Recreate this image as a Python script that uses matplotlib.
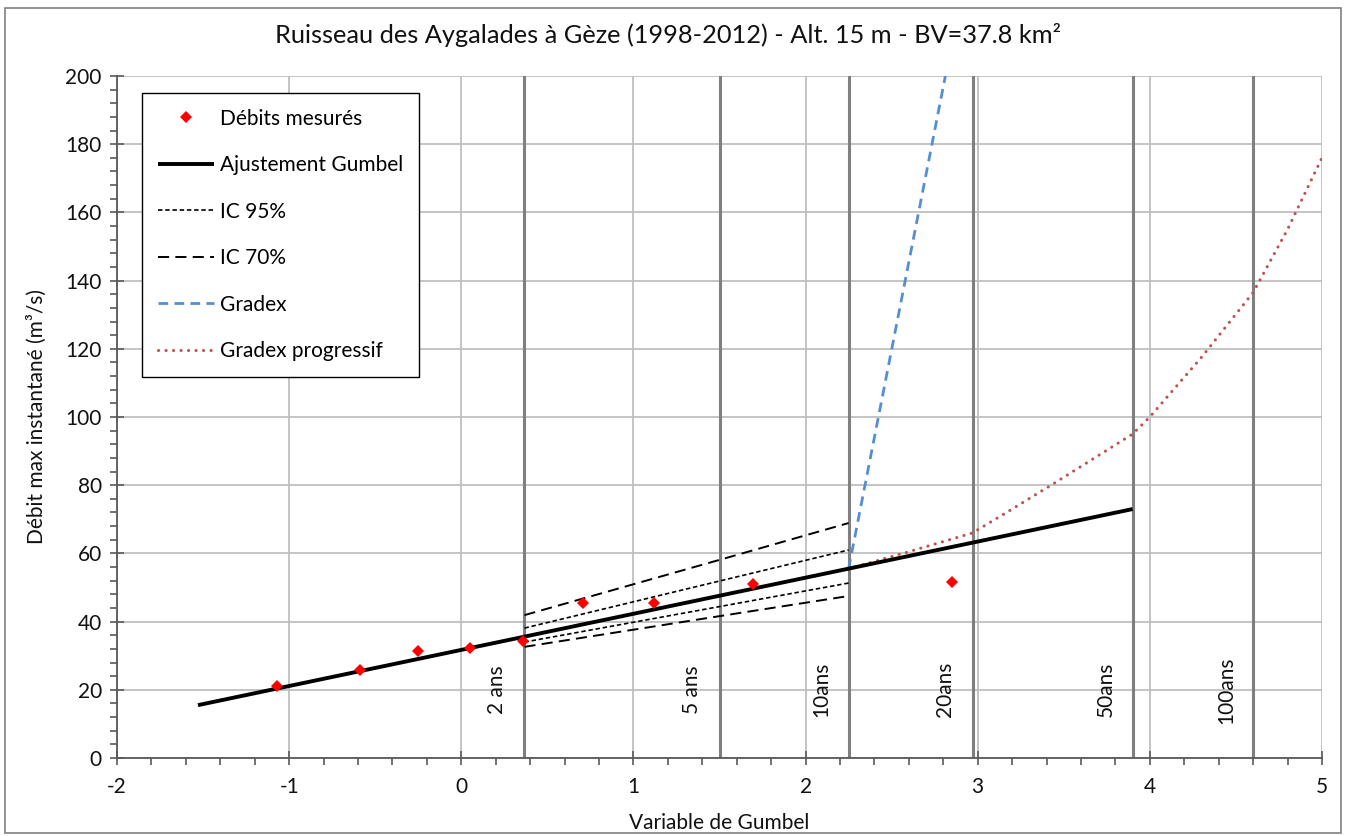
import matplotlib.pyplot as plt
from matplotlib.patches import Rectangle

plt.rcParams['font.family'] = ['Lato', 'DejaVu Sans']
plt.rcParams['lines.scale_dashes'] = False
plt.rcParams['axes.unicode_minus'] = False

# measured floods (gumbel reduced variate, m3/s)
obs_u = [-1.070, -0.588, -0.251, 0.051, 0.359, 0.706, 1.120, 1.697, 2.852]
obs_q = [21.1, 25.8, 31.5, 32.4, 34.2, 45.5, 45.5, 50.9, 51.6]

# gumbel fit
gumbel_u = [-1.53, 3.90]
gumbel_q = [15.5, 73.0]

# confidence intervals
ic_u = [0.367, 1.500, 2.250]
ic95_up = [38.1, 51.9, 61.0]
ic95_lo = [34.0, 44.4, 51.3]
ic70_up = [41.9, 58.1, 68.9]
ic70_lo = [32.6, 41.6, 47.5]

# gradex
gradex_u = [2.25, 2.82]
gradex_q = [55.5, 202.0]

# gradex progressif
gprog_u = [2.25, 2.60, 2.97, 3.20, 3.42, 3.60, 3.90, 4.00, 4.30, 4.60, 4.80, 5.00]
gprog_q = [55.5, 60.5, 66.0, 73.0, 79.8, 85.5, 95.0, 100.0, 117.5, 136.5, 155.0, 176.0]

# return periods
rp_u = [0.367, 1.500, 2.250, 2.970, 3.902, 4.600]
rp_labels = ['2 ans', '5 ans', '10ans', '20ans', '50ans', '100ans']

fig = plt.figure(figsize=(13.47, 8.36), dpi=100)
ax = fig.add_axes([0.0869, 0.0933, 0.9814 - 0.0869, 0.9091 - 0.0933])

ax.set_xlim(-2, 5)
ax.set_ylim(0, 200)
ax.set_xticks(range(-2, 6))
ax.set_yticks(range(0, 201, 20))
ax.set_xticks([i / 5 for i in range(-10, 26)], minor=True)
ax.set_yticks(range(0, 201, 4), minor=True)
ax.grid(True, which='major', color='#BFBFBF', lw=1.3, zorder=0)
ax.set_axisbelow(True)

for u in rp_u:
    ax.axvline(u, color='#808080', lw=2.2, zorder=1)
for u, lab in zip(rp_u, rp_labels):
    ax.text(u - 0.1, 20, lab, rotation=90, ha='right', va='center', fontsize=15, color='#111111')

ax.plot(ic_u, ic95_up, color='black', lw=1.2, dashes=(3.2, 2.0), label='IC 95%', zorder=3)
ax.plot(ic_u, ic95_lo, color='black', lw=1.2, dashes=(3.2, 2.0), zorder=3)
ax.plot(ic_u, ic70_up, color='black', lw=1.4, dashes=(8.0, 4.5), label='IC 70%', zorder=3)
ax.plot(ic_u, ic70_lo, color='black', lw=1.4, dashes=(8.0, 4.5), zorder=3)

ax.plot(gumbel_u, gumbel_q, color='black', lw=2.8, solid_capstyle='butt', label='Ajustement Gumbel', zorder=4)
ax.plot(gradex_u, gradex_q, color='#558ED5', lw=2.0, dashes=(7.0, 4.5), label='Gradex', zorder=3)
ax.plot(gprog_u, gprog_q, color='#C0504D', lw=2.2, dashes=(0.1, 5.3), dash_capstyle='round',
        label='Gradex progressif', zorder=3)
ax.plot(obs_u, obs_q, 'D', color='red', ms=6.5, mew=0, label='Débits mesurés', zorder=5)

for s in ['top', 'right']:
    ax.spines[s].set_visible(False)
for s in ['left', 'bottom']:
    ax.spines[s].set_color('#595959')
    ax.spines[s].set_linewidth(1.3)
ax.tick_params(which='major', direction='inout', length=10, width=1.2, color='#595959',
               labelsize=15, labelcolor='#111111')
ax.tick_params(which='minor', direction='out', length=5, width=1.2, color='#595959')
ax.tick_params(axis='x', which='major', pad=9)
ax.tick_params(axis='y', which='major', pad=6)

ax.set_xlabel('Variable de Gumbel', fontsize=15, color='#111111', labelpad=11)
ax.set_ylabel('Débit max instantané (m³/s)', fontsize=15, color='#111111', labelpad=13)

fig.text(0.496, 0.958, 'Ruisseau des Aygalades à Gèze (1998-2012) - Alt. 15 m - BV=37.8 km²',
         ha='center', va='center', fontsize=18.3, color='#111111')

h, l = ax.get_legend_handles_labels()
order = ['Débits mesurés', 'Ajustement Gumbel', 'IC 95%', 'IC 70%', 'Gradex', 'Gradex progressif']
hmap = dict(zip(l, h))
leg = ax.legend([hmap[k] for k in order], order, loc='upper left', bbox_to_anchor=(0.0207, 0.975),
                borderaxespad=0, fontsize=15, frameon=True, fancybox=False, framealpha=1,
                edgecolor='black', handlelength=2.7, handletextpad=0.3, labelspacing=1.27,
                borderpad=0.75, numpoints=1)
leg.get_frame().set_linewidth(1.0)

fig.patches.append(Rectangle((0.0037, 0.0036), 0.9918, 0.9868, transform=fig.transFigure,
                             fill=False, edgecolor='#808080', lw=1.2))

fig.savefig('out.png', dpi=100)
